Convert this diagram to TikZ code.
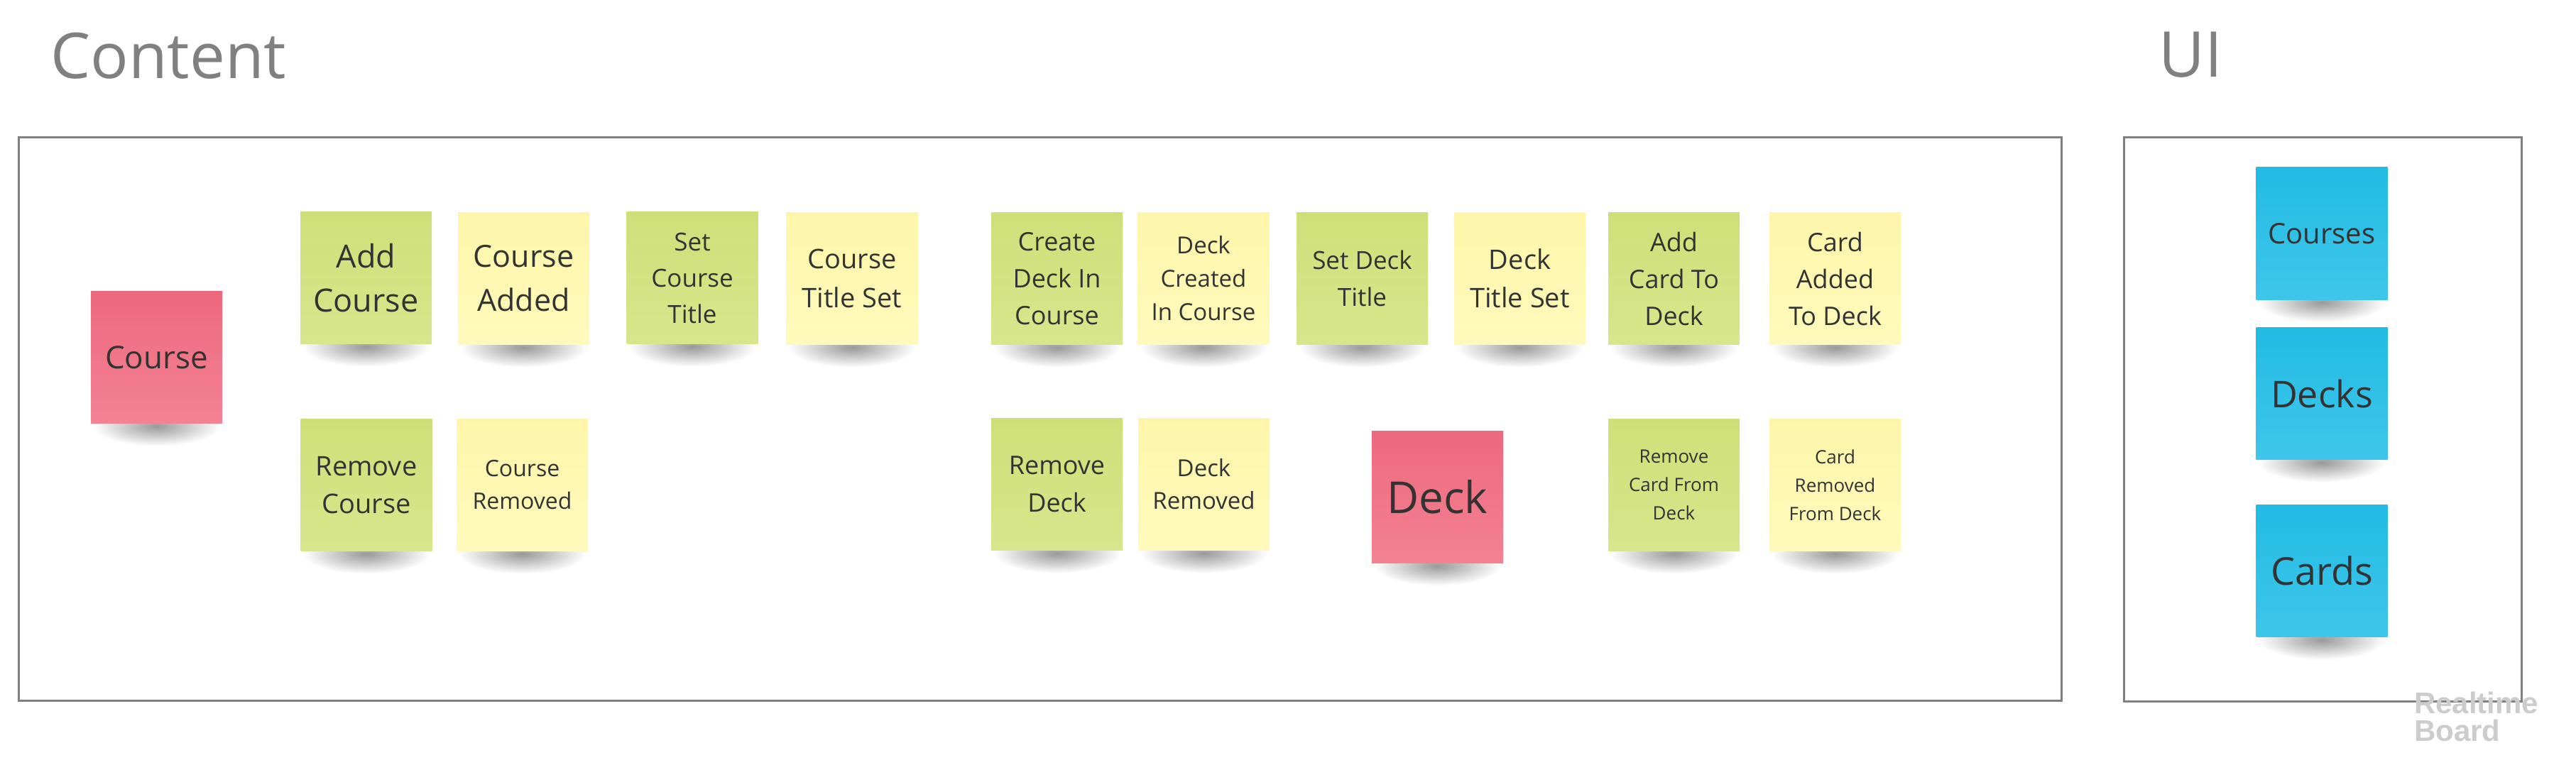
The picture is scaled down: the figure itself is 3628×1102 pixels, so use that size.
\documentclass[tikz,border=0pt]{standalone}
\usepackage{fontspec}
\setmainfont{Open Sans}
\newfontfamily\logofont{Liberation Sans}
\usetikzlibrary{backgrounds}
\definecolor{greenT}{RGB}{207,223,120}
\definecolor{greenB}{RGB}{215,230,140}
\definecolor{yellowT}{RGB}{253,246,170}
\definecolor{yellowB}{RGB}{255,250,188}
\definecolor{redT}{RGB}{237,104,125}
\definecolor{redB}{RGB}{243,130,146}
\definecolor{blueT}{RGB}{34,187,228}
\definecolor{blueB}{RGB}{62,198,234}
\definecolor{txt}{RGB}{51,51,51}
\definecolor{framegray}{RGB}{128,128,128}
\definecolor{logogray}{RGB}{204,204,204}
\tikzset{
  sticky/.style={inner sep=0pt, minimum width=185pt, minimum height=186pt, align=center, text=txt},
  gsticky/.style={sticky, top color=greenT, bottom color=greenB},
  ysticky/.style={sticky, top color=yellowT, bottom color=yellowB},
  rsticky/.style={sticky, top color=redT, bottom color=redB},
  bsticky/.style={sticky, top color=blueT, bottom color=blueB},
  frame/.style={draw=framegray, line width=3pt},
  heading/.style={inner sep=0pt, anchor=base west, text=framegray, font=\fontsize{89}{100}\selectfont},
  logo/.style={inner sep=0pt, anchor=base west, text=logogray, font=\logofont\bfseries\fontsize{42}{42}\selectfont}
}
\newcommand{\fs}[2]{\fontsize{#1}{#2}\selectfont}
\begin{document}
\begin{tikzpicture}[x=1pt,y=-1pt]
\useasboundingbox (0,0) rectangle (3628,1102);

% frames
\node[inner sep=0pt, frame, minimum width=2877pt, minimum height=794pt, anchor=north west] (contentframe) at (25,192) {};
\node[inner sep=0pt, frame, minimum width=560pt, minimum height=795pt, anchor=north west] (uiframe) at (2990,192) {};

% headings
\node[heading] (contenttitle) at (71,111) {Content};
\node[heading] (uititle) at (3040,109) {UI};

% stickies
\node[rsticky, font=\fs{44}{60}] (course) at (220.5,503.5) {Course};
\node[gsticky, font=\fs{45}{62}] (addc) at (515.5,391.5) {Add\\Course};
\node[ysticky, font=\fs{43}{62}] (cadded) at (737.5,392.5) {Course\\Added};
\node[gsticky, font=\fs{35}{51}] (setct) at (975,391.5) {Set\\Course\\Title};
\node[ysticky, font=\fs{38}{55}] (ctset) at (1200,392.5) {Course\\Title Set};
\node[gsticky, font=\fs{36}{52}] (createdeck) at (1488.5,392.5) {Create\\Deck In\\Course};
\node[ysticky, font=\fs{33}{47}] (deckcreated) at (1695,392.5) {Deck\\Created\\In Course};
\node[gsticky, font=\fs{35}{52}] (setdt) at (1918.5,392.5) {Set Deck\\Title};
\node[ysticky, font=\fs{38}{54}] (dtset) at (2140.5,392.5) {Deck\\Title Set};
\node[gsticky, font=\fs{36}{52}] (addcard) at (2357.5,392.5) {Add\\Card To\\Deck};
\node[ysticky, font=\fs{36}{52}] (cardadded) at (2584.5,392.5) {Card\\Added\\To Deck};

\node[gsticky, font=\fs{38}{53}] (remcourse) at (516,683.5) {Remove\\Course};
\node[ysticky, font=\fs{32}{46}] (courserem) at (735.5,683.5) {Course\\Removed};
\node[gsticky, font=\fs{36}{53}] (remdeck) at (1488.5,682.5) {Remove\\Deck};
\node[ysticky, font=\fs{33}{46}] (deckrem) at (1695.5,682.5) {Deck\\Removed};
\node[rsticky, font=\fs{62}{70}] (deck) at (2024.5,700) {Deck};
\node[gsticky, font=\fs{26}{40}] (remcard) at (2357.5,683.5) {Remove\\Card From\\Deck};
\node[ysticky, font=\fs{26}{40}] (cardrem) at (2584.5,683.5) {Card\\Removed\\From Deck};

\node[bsticky, font=\fs{40}{50}] (courses) at (3270,329) {Courses};
\node[bsticky, font=\fs{52}{60}] (decks) at (3270,554.5) {Decks};
\node[bsticky, font=\fs{54}{60}] (cards) at (3270,804.5) {Cards};

% background and shadows
\begin{scope}[on background layer]
\fill[white] (0,0) rectangle (3628,1102);
\foreach \n in {course,addc,cadded,setct,ctset,createdeck,deckcreated,setdt,dtset,addcard,cardadded,remcourse,courserem,remdeck,deckrem,deck,remcard,cardrem,courses,decks,cards}{
  \shade[inner color=black!40, outer color=white] ([yshift=-4pt]\n.south) ellipse [x radius=90pt, y radius=28pt];
}
\end{scope}

% logo
\node[logo] (logo1) at (3400,1005) {Realtime};
\node[logo] (logo2) at (3400,1044) {Board};
\end{tikzpicture}
\end{document}
